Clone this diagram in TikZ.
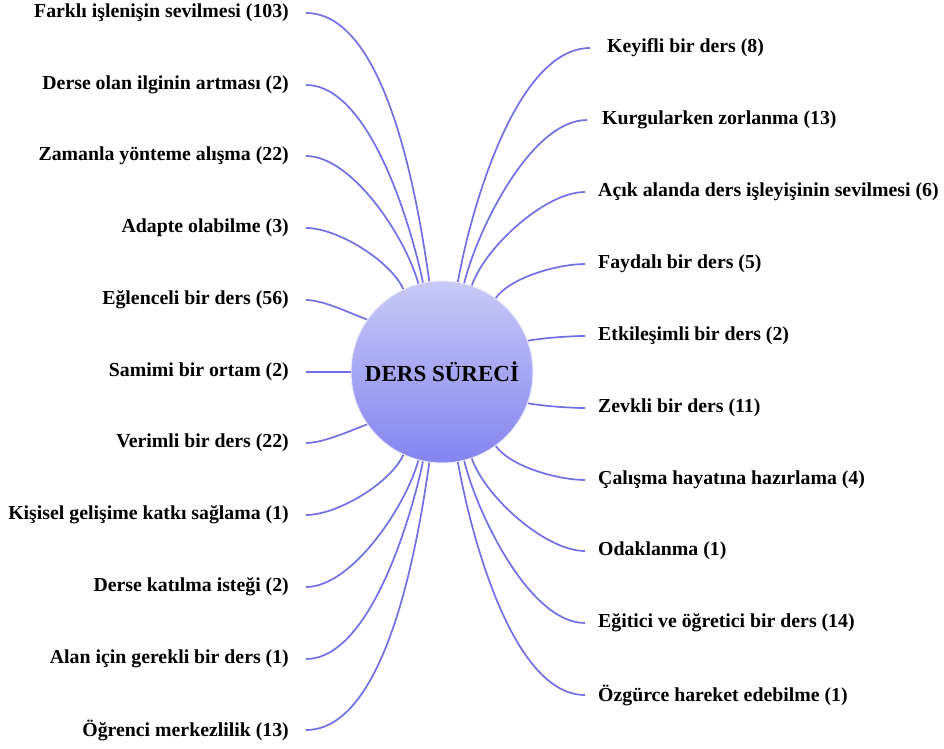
\documentclass[tikz,border=0pt]{standalone}
\usepackage{fontspec}
\setmainfont{Liberation Serif}
\usetikzlibrary{positioning}
\definecolor{linkblue}{RGB}{112,112,228}
\definecolor{ctop}{RGB}{200,202,246}
\definecolor{cbot}{RGB}{132,132,240}

\begin{document}
\begin{tikzpicture}[x=1pt,y=1pt,
  lft/.style={anchor=east,inner xsep=17pt,inner ysep=0pt,font=\fontsize{19.8}{22}\selectfont\bfseries},
  rgt/.style={anchor=west,inner xsep=13pt,inner ysep=0pt,font=\fontsize{19.8}{22}\selectfont\bfseries},
  con/.style={draw=linkblue,line width=1.7pt,looseness=0.7}]
\useasboundingbox (0,0) rectangle (944,748);

% centre
\node[circle,minimum size=182pt,inner sep=0pt,shading=axis,top color=ctop,bottom color=cbot,
  draw=ctop!40!white,line width=1pt,font=\fontsize{23}{26}\selectfont\bfseries] (c) at (442,376) {DERS SÜRECİ};

% left side
\node[lft] (l1) at (306,735) {Farklı işlenişin sevilmesi (103)};
\node[lft] (l2) at (306,663) {Derse olan ilginin artması (2)};
\node[lft] (l3) at (306,592) {Zamanla yönteme alışma (22)};
\node[lft] (l4) at (306,520) {Adapte olabilme (3)};
\node[lft] (l5) at (306,448) {Eğlenceli bir ders (56)};
\node[lft] (l6) at (306,376) {Samimi bir ortam (2)};
\node[lft] (l7) at (306,305) {Verimli bir ders (22)};
\node[lft] (l8) at (306,233) {Kişisel gelişime katkı sağlama (1)};
\node[lft] (l9) at (306,161) {Derse katılma isteği (2)};
\node[lft] (l10) at (306,89) {Alan için gerekli bir ders (1)};
\node[lft] (l11) at (306,18) {Öğrenci merkezlilik (13)};

% right side
\node[rgt,inner xsep=17pt] (r1) at (590,700) {Keyifli bir ders (8)};
\node[rgt,inner xsep=15pt] (r2) at (587,628) {Kurgularken zorlanma (13)};
\node[rgt] (r3) at (585,556) {Açık alanda ders işleyişinin sevilmesi (6)};
\node[rgt] (r4) at (585,484) {Faydalı bir ders (5)};
\node[rgt] (r5) at (585,412) {Etkileşimli bir ders (2)};
\node[rgt] (r6) at (585,340) {Zevkli bir ders (11)};
\node[rgt] (r7) at (585,268) {Çalışma hayatına hazırlama (4)};
\node[rgt] (r8) at (585,197) {Odaklanma (1)};
\node[rgt] (r9) at (585,125) {Eğitici ve öğretici bir ders (14)};
\node[rgt] (r10) at (585,53) {Özgürce hareket edebilme (1)};

\draw[con] (c.98) to[out=98,in=0] (l1.east);
\draw[con] (c.102) to[out=102,in=0] (l2.east);
\draw[con] (c.105) to[out=105,in=0] (l3.east);
\draw[con] (c.115) to[out=115,in=0] (l4.east);
\draw[con] (c.145) to[out=160,in=0] (l5.east);
\draw[con] (c.west) -- (l6.east);
\draw[con] (c.215) to[out=200,in=0] (l7.east);
\draw[con] (c.245) to[out=245,in=0] (l8.east);
\draw[con] (c.255) to[out=255,in=0] (l9.east);
\draw[con] (c.258) to[out=258,in=0] (l10.east);
\draw[con] (c.262) to[out=262,in=0] (l11.east);

\draw[con] (c.80) to[out=80,in=180] (r1.west);
\draw[con] (c.76) to[out=76,in=180] (r2.west);
\draw[con] (c.71) to[out=71,in=180] (r3.west);
\draw[con] (c.54) to[out=54,in=180] (r4.west);
\draw[con] (c.20) to[out=10,in=180] (r5.west);
\draw[con] (c.340) to[out=350,in=180] (r6.west);
\draw[con] (c.306) to[out=306,in=180] (r7.west);
\draw[con] (c.289) to[out=289,in=180] (r8.west);
\draw[con] (c.284) to[out=284,in=180] (r9.west);
\draw[con] (c.280) to[out=280,in=180] (r10.west);
\end{tikzpicture}
\end{document}
